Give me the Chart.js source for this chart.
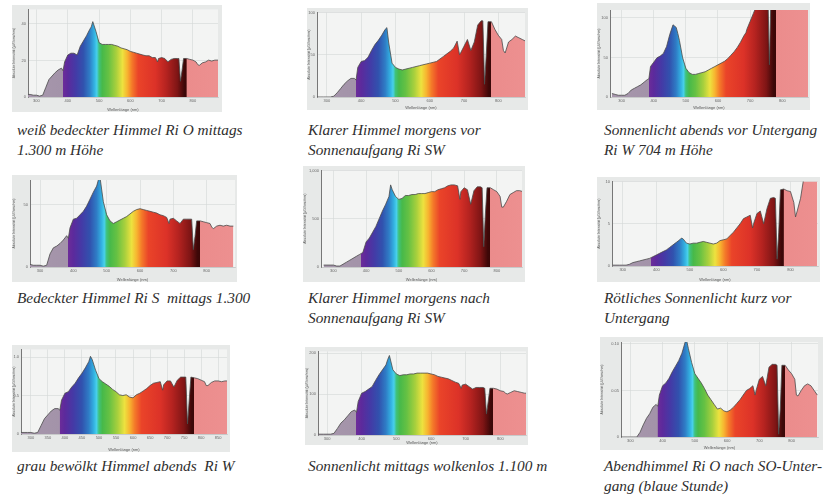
<!DOCTYPE html>
<html>
<head>
<meta charset="utf-8">
<script src="https://cdn.jsdelivr.net/npm/chart.js@4.4.1/dist/chart.umd.min.js"></script>
<style>
  body { margin: 0; background: #fff; width: 825px; height: 498px; position: relative; overflow: hidden; }
  canvas { position: absolute; background: #e7e9e8; }
  .cap { position: absolute; font-family: "Liberation Serif", "DejaVu Serif", serif; font-style: italic;
         font-size: 15.3px; line-height: 20px; color: #2e2e2e; white-space: pre; }
</style>
</head>
<body>
<canvas id="c1" width="210" height="107" style="left:12px;top:5px"></canvas>
<canvas id="c2" width="221" height="102" style="left:307px;top:8px"></canvas>
<canvas id="c3" width="213" height="107" style="left:597px;top:3px"></canvas>
<canvas id="c4" width="225" height="107" style="left:12px;top:175px"></canvas>
<canvas id="c5" width="222" height="116" style="left:303px;top:166px"></canvas>
<canvas id="c6" width="223" height="105" style="left:597px;top:177px"></canvas>
<canvas id="c7" width="218" height="107" style="left:12px;top:345px"></canvas>
<canvas id="c8" width="223" height="98" style="left:305px;top:347px"></canvas>
<canvas id="c9" width="223" height="113" style="left:600px;top:337px"></canvas>

<div class="cap" style="left:17px;top:120px">weiß bedeckter Himmel Ri O mittags
1.300 m Höhe</div>
<div class="cap" style="left:308px;top:120px">Klarer Himmel morgens vor
Sonnenaufgang Ri SW</div>
<div class="cap" style="left:604px;top:120px">Sonnenlicht abends vor Untergang
Ri W 704 m Höhe</div>
<div class="cap" style="left:17px;top:288px">Bedeckter Himmel Ri S  mittags 1.300</div>
<div class="cap" style="left:308px;top:288px">Klarer Himmel morgens nach
Sonnenaufgang Ri SW</div>
<div class="cap" style="left:604px;top:288px">Rötliches Sonnenlicht kurz vor
Untergang</div>
<div class="cap" style="left:17px;top:456px">grau bewölkt Himmel abends  Ri W</div>
<div class="cap" style="left:308px;top:456px">Sonnenlicht mittags wolkenlos 1.100 m</div>
<div class="cap" style="left:604px;top:456px">Abendhimmel Ri O nach SO-Unter-
gang (blaue Stunde)</div>

<script>
// Wellenlängen (nm), gemeinsam für alle Spektren
const wavelengths = [270,280,290,300,310,320,330,340,350,360,370,380,385,390,400,410,420,430,440,450,460,470,475,480,
  490,500,510,520,530,540,550,560,570,580,590,600,610,620,630,640,650,660,670,680,687,690,700,710,720,730,740,750,755,
  760,765,770,780,790,800,810,815,820,830,840,850,860,870,880];

const weissBedeckt = [1.4,1.4,1.0,1.0,0.5,1.0,5.3,9.6,11.5,13.4,14.9,15.8,14.4,19.2,23.0,24.0,24.0,23.0,27.8,30.7,33.6,37.0,38.4,41.3,
  36.0,29.8,28.8,28.8,28.8,28.8,28.3,27.8,26.9,26.4,25.9,25.0,24.5,24.0,23.5,23.0,22.6,22.6,21.6,21.6,19.2,21.1,21.6,21.1,19.2,20.6,21.1,21.1,21.1,
  8.6,14.4,21.1,21.1,20.6,20.2,19.2,17.8,17.3,18.7,19.2,20.2,19.7,20.2,20.2];
const klarVorAufgang = [0,0,0,0,0,1,5,10,15,19,22,22,20,35,42,43,47,55,62,67,73,80,82,65,
  40,35,33,32,33,34,35,36,37,38,39,40,41,42,45,48,51,54,58,66,50,52,60,68,55,65,85,90,90,
  15,50,89,89,80,73,68,55,52,65,68,72,70,68,66];
const abendsVorUntergang = [4.4,3.3,2.2,2.2,2.2,4.4,8.8,11,13.2,15.4,18.7,22,23.1,38.5,44,49.5,51.7,55,63.8,79.2,91.3,88,80.3,71.5,
  49.5,36.3,30.8,28.6,28.6,29.7,30.8,31.9,34.1,36.3,38.5,40.7,42.9,45.1,48.4,52.8,57.2,62.7,69.3,77,81.4,85.8,95.7,105.6,115.5,125,130,135,135,
  40.7,135,140,140,140,140,140,140,140,140,140,140,140,140,140];
const bedecktSued = [2.1,1.4,1.4,1.4,0.7,1.4,10.5,15.4,16.8,18.9,21.7,25.2,23.1,31.5,38.5,39.2,42,44.8,49,54.6,60.2,65.1,70,72.1,
  52.5,42,37.1,35,36.4,37.8,39.2,40.6,42.7,44.8,46.2,46.9,46.2,45.5,44.8,44.1,43.4,42,41.3,39.9,35,38.5,39.2,37.1,35,38.5,38.5,38.5,38.5,
  14,24.5,37.1,37.1,36.4,35.7,35,32.2,30.8,32.9,33.6,32.9,33.6,32.9,32.9];
const klarNachAufgang = [20,20,20,20,10,10,30,50,70,90,110,130,140,150,260,300,360,420,500,580,650,730,850,800,
  730,700,710,740,740,750,750,760,760,760,770,780,780,800,810,820,840,850,850,840,700,780,820,800,650,790,830,830,820,
  210,550,820,820,800,780,730,620,620,680,750,770,790,790,780];
const roetlichKurzVor = [0.1,0.1,0.1,0.1,0.1,0.2,0.4,0.5,0.6,0.7,0.8,0.9,1.0,1.1,1.3,1.5,1.7,1.9,2.2,2.5,2.8,3.1,3.3,3.2,
  2.7,2.6,2.7,2.7,2.8,2.9,2.8,2.7,2.6,2.7,3.0,3.1,3.2,3.6,4.0,4.5,5.0,5.6,5.8,6.0,4.5,5.0,6.2,6.5,5.0,6.8,8.0,8.1,8.0,
  0.8,4.0,9.0,9.1,8.9,8.8,7.5,5.8,6.5,8.0,10.5,11,11,11,11];
const grauAbends = [0.02,0.02,0.02,0.02,0.01,0.02,0.11,0.2,0.25,0.3,0.33,0.33,0.31,0.44,0.53,0.55,0.61,0.66,0.73,0.79,0.86,0.94,1.01,0.97,
  0.83,0.72,0.68,0.65,0.62,0.58,0.55,0.51,0.5,0.51,0.48,0.47,0.51,0.53,0.56,0.59,0.63,0.66,0.67,0.68,0.57,0.64,0.69,0.69,0.61,0.7,0.74,0.74,0.74,
  0.13,0.44,0.74,0.73,0.72,0.7,0.68,0.63,0.63,0.67,0.69,0.69,0.68,0.69,0.69];
const mittagsWolkenlos = [2,2,2,2,2,4,16,29,37,47,57,61,55,82,102,106,112,118,133,147,159,171,184,194,
  159,149,145,147,147,149,149,151,151,151,151,149,147,143,141,139,137,133,129,126,114,122,124,118,112,116,116,116,114,
  51,82,114,114,112,108,106,102,100,104,108,106,104,102,102];
const blaueStunde = [0,0,0,0,0,0,0.005,0.013,0.02,0.025,0.032,0.035,0.033,0.045,0.055,0.058,0.063,0.07,0.076,0.082,0.09,0.102,0.103,0.095,
  0.08,0.068,0.063,0.058,0.052,0.045,0.04,0.035,0.03,0.031,0.028,0.027,0.029,0.032,0.036,0.04,0.045,0.05,0.052,0.055,0.045,0.05,0.062,0.065,0.055,0.075,0.078,0.078,0.077,
  0.003,0.03,0.077,0.077,0.072,0.068,0.062,0.045,0.044,0.05,0.055,0.057,0.055,0.05,0.045];

// Achsenbeschriftungen
const xTicks100 = [300, 400, 500, 600, 700, 800];
const xTicks50 = [300, 350, 400, 450, 500, 550, 600, 650, 700, 750, 800, 850];
const yTicks1 = [0, 20, 40];
const yTicks2 = [0, 50, 100];
const yTicks3 = [0, 50, 100];
const yTicks4 = [0, 50];
const yTicks5 = [0, 500, 1000];
const yTicks6 = [0, 5, 10];
const yTicks7 = [0, 0.5, 1];
const yTicks8 = [0, 100, 200];
const yTicks9 = [0, 0.05, 0.1];

// Farbverlauf des Spektrums: [nm, Farbe]
const spectrumColors = [
  [260, '#a797ac'], [384, '#a393a9'], [385, '#6c2c99'], [400, '#5c2a9c'], [425, '#443aa6'], [450, '#3152ae'],
  [470, '#2f7dc6'], [485, '#33b2e2'], [493, '#48d0ea'], [500, '#3fc27c'], [510, '#46b94a'], [530, '#66c143'],
  [555, '#a9d03d'], [575, '#ede23f'], [590, '#f7b530'], [605, '#f47a29'], [625, '#ea4429'], [680, '#dc3228'],
  [715, '#b52320'], [750, '#7f1515'], [772, '#3e0808'], [779, '#3a0707'], [780, '#eb8c8c'], [900, '#ed9090']
];

function spectrumFill(chart) {
  const area = chart.chartArea;
  if (!area) return '#ccc';
  const x = chart.scales.x;
  const g = chart.ctx.createLinearGradient(area.left, 0, area.right, 0);
  spectrumColors.forEach(([nm, col]) => {
    const p = (x.getPixelForValue(nm) - area.left) / (area.right - area.left);
    g.addColorStop(Math.min(1, Math.max(0, p)), col);
  });
  return g;
}

const plotBg = {
  id: 'plotBg',
  beforeDraw(chart) {
    const a = chart.chartArea, c = chart.ctx;
    c.save();
    c.fillStyle = '#f3f4f3';
    c.fillRect(a.left, a.top, a.right - a.left, a.bottom - a.top);
    c.restore();
  }
};

function makeChart(id, values, xr, xTicks, yMax, yTicks, pad) {
  new Chart(document.getElementById(id), {
    type: 'line',
    data: {
      datasets: [{
        data: wavelengths.map((w, i) => ({ x: w, y: values[i] })),
        fill: 'origin',
        borderColor: '#4a4a4a',
        borderWidth: 0.8,
        pointRadius: 0,
        tension: 0,
        backgroundColor: c => spectrumFill(c.chart)
      }]
    },
    options: {
      responsive: false,
      animation: false,
      events: [],
      layout: { padding: { top: pad[1], right: pad[2], left: 0, bottom: 0 } },
      plugins: { legend: { display: false }, tooltip: { enabled: false } },
      scales: {
        x: {
          type: 'linear', min: xr[0], max: xr[1],
          afterBuildTicks: s => { s.ticks = xTicks.map(v => ({ value: v })); },
          ticks: { autoSkip: false, font: { size: 4 }, color: '#666', padding: 1, maxRotation: 0 },
          grid: { color: '#d4d6d6', lineWidth: 0.6, drawTicks: false },
          border: { color: '#c8caca' },
          title: { display: true, text: 'Wellenlänge (nm)', font: { size: 4 }, color: '#555', padding: 0 },
          afterFit: s => { s.height = pad[3]; }
        },
        y: {
          min: 0, max: yMax,
          afterBuildTicks: s => { s.ticks = yTicks.map(v => ({ value: v })); },
          ticks: { autoSkip: false, font: { size: 4 }, color: '#666', padding: 2 },
          grid: { color: '#d4d6d6', lineWidth: 0.6, drawTicks: false },
          border: { color: '#777', width: 1 },
          title: { display: true, text: 'Absolute Intensität (µW/cm²/nm)', font: { size: 3.5 }, color: '#555', padding: 0 },
          afterFit: s => { s.width = pad[0]; }
        }
      }
    },
    plugins: [plotBg]
  });
}

makeChart('c1', weissBedeckt,       [273, 880], xTicks100, 48,    yTicks1, [16, 2, 4, 15]);
makeChart('c2', klarVorAufgang,     [271, 878], xTicks100, 100,   yTicks2, [10, 2, 3, 13]);
makeChart('c3', abendsVorUntergang, [264, 880], xTicks100, 110,   yTicks3, [13, 7, 2, 13]);
makeChart('c4', bedecktSued,        [270, 885], xTicks100, 70,    yTicks4, [18, 5, 2, 15]);
makeChart('c5', klarNachAufgang,    [262, 877], xTicks100, 1000,  yTicks5, [18, 4, 3, 15]);
makeChart('c6', roetlichKurzVor,    [268, 882], xTicks100, 10,    yTicks6, [15, 3, 2, 16]);
makeChart('c7', grauAbends,         [271, 876], xTicks50,  1.1,   yTicks7, [9, 3, 3, 18]);
makeChart('c8', mittagsWolkenlos,   [274, 874], xTicks100, 204,   yTicks8, [13, 3, 2, 10]);
makeChart('c9', blaueStunde,        [271, 882], xTicks100, 0.102, yTicks9, [21, 5, 5, 13]);
</script>
</body>
</html>
